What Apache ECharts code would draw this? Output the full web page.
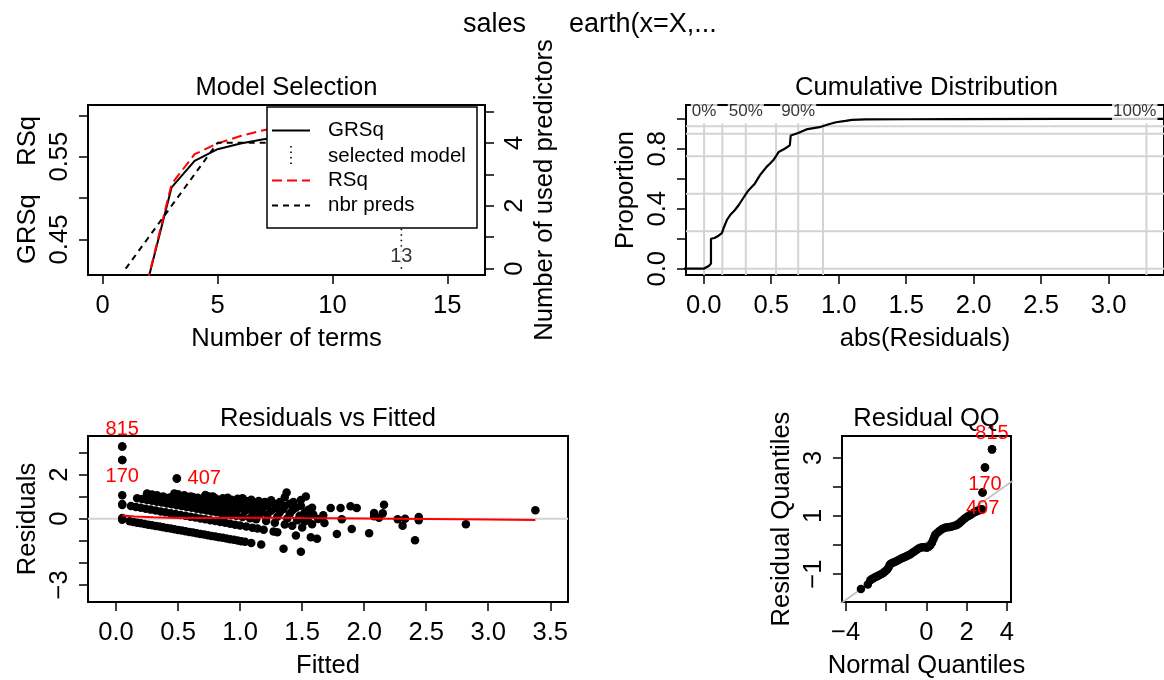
<!DOCTYPE html>
<html><head><meta charset="utf-8">
<script src="https://cdn.jsdelivr.net/npm/echarts@6/dist/echarts.min.js"></script>
<style>html,body{margin:0;padding:0;background:#fff}#c{width:1164px;height:680px}</style>
</head><body><div id="c"></div>
<script>
// ---------------- DATA ----------------
// Panel 1: Model Selection
const nTerms       = [1,2,3,4,5,6,7,8,9,10,11,12,13,14,15,16];
const grsqVals     = [0,0.404,0.513,0.545,0.559,0.566,0.571,0.574,0.577,0.579,0.581,0.582,0.583,0.583,0.582,0.581];
const rsqVals      = [0,0.405,0.517,0.553,0.566,0.575,0.582,0.587,0.591,0.594,0.597,0.599,0.601,0.603,0.605,0.607];
const nbrPredsVals = [0,1,2,3,4,4,4,4,4,5,5,5,5,5,5,5];
const selectedTerms = 13;
const p1XTicks = [0,5,10,15];
const p1YTicks = [0.45,0.5,0.55,0.6];
const p1YLabels = [0.45,0.55];
const p1RTicks = [0,1,2,3,4,5];
const p1RLabels = [0,2,4];

// Panel 2: Cumulative Distribution
const ecdfAbsResid = [-0.5,0.0,0.02,0.04,0.054,0.054,0.08,0.11,0.135,0.147,0.172,0.196,0.23,0.26,0.285,0.307,0.333,0.38,0.417,0.44,0.466,0.49,0.515,0.535,0.555,0.6,0.638,0.645,0.70,0.76,0.858,0.92,0.98,1.05,1.10,1.2,1.5,1.84,2.66,3.28,3.6];
const ecdfProp     = [0,0,0.01,0.02,0.035,0.20,0.205,0.22,0.237,0.27,0.325,0.358,0.39,0.425,0.46,0.49,0.524,0.569,0.624,0.65,0.679,0.70,0.723,0.75,0.778,0.80,0.823,0.889,0.905,0.929,0.944,0.962,0.977,0.986,0.993,0.996,0.997,0.998,0.999,1.0,1.0];
const quantileAbsResid = [0.003,0.138,0.312,0.536,0.700,0.884,3.28];
const quantileProps    = [0,0.25,0.5,0.75,0.9,0.95];
const quantileLabelAt  = [0.003,0.312,0.700,3.28];
const quantileLabels   = ['0%','50%','90%','100%'];
const p2XTicks = [0,0.5,1,1.5,2,2.5,3];
const p2YTicks = [0,0.2,0.4,0.6,0.8,1];
const p2YLabels = [0,0.4,0.8];

// Panel 3: Residuals vs Fitted
const fittedVals = [
 0.05,0.05,0.05,0.05,0.05,0.05,0.05,0.49,
 0.11,0.14,0.17,0.20,0.23,0.26,0.29,0.32,0.35,0.38,0.41,0.44,0.47,0.50,0.53,0.56,0.59,0.62,0.65,0.68,0.71,0.74,0.77,0.80,0.83,0.86,0.89,0.92,0.95,0.98,1.01,1.04,1.09,1.17,1.35,1.49,
 0.12,0.16,0.20,0.24,0.28,0.32,0.36,0.40,0.44,0.48,0.52,0.56,0.60,0.64,0.68,0.72,0.76,0.80,0.84,0.88,0.92,0.96,1.00,1.05,1.10,1.14,1.19,1.27,1.30,1.45,
 0.17,0.21,0.25,0.29,0.33,0.37,0.41,0.45,0.49,0.53,0.57,0.61,0.65,0.69,0.73,0.77,0.81,0.85,0.89,0.93,0.97,1.02,1.08,1.13,1.21,1.28,1.36,1.42,1.50,
 0.25,0.29,0.33,0.38,0.43,0.48,0.53,0.58,0.63,0.68,0.73,0.78,0.83,0.88,0.93,0.98,1.04,1.10,1.16,1.22,1.30,1.38,1.46,1.52,
 0.47,0.50,0.55,0.60,0.66,0.70,0.76,0.82,0.88,0.94,1.00,1.06,1.12,1.18,1.25,1.32,1.40,1.48,1.55,1.63,
 0.72,0.78,0.86,0.93,1.00,1.08,1.15,1.22,1.29,1.35,1.42,1.52,
 1.02,1.09,1.15,1.20,1.28,1.36,1.45,1.55,
 1.25,1.32,1.40,1.49,1.58,
 0.30,0.36,0.42,0.55,0.62,0.75,0.80,0.90,0.98,1.05,1.12,1.18,
 1.53,1.49,1.59,1.58,1.57,1.62,1.67,1.68,1.73,1.78,1.81,1.82,1.89,1.90,1.94,2.04,2.08,2.08,2.12,2.15,2.16,2.27,2.31,2.33,2.41,2.44,2.44,2.82,3.38,1.375,1.36,1.43];
const residVals = [
 3.27,2.66,1.06,0.67,0.62,0.03,-0.05,1.82,
 -0.12,-0.15,-0.18,-0.21,-0.24,-0.27,-0.30,-0.33,-0.36,-0.39,-0.42,-0.45,-0.48,-0.51,-0.54,-0.57,-0.60,-0.63,-0.66,-0.69,-0.72,-0.75,-0.78,-0.81,-0.84,-0.87,-0.90,-0.93,-0.96,-0.99,-1.02,-1.05,-1.10,-1.17,-1.36,-1.50,
 0.57,0.53,0.49,0.45,0.41,0.37,0.33,0.29,0.25,0.21,0.17,0.13,0.09,0.05,0.01,-0.03,-0.07,-0.11,-0.15,-0.19,-0.23,-0.27,-0.31,-0.36,-0.41,-0.45,-0.50,-0.58,-0.61,-0.76,
 0.93,0.89,0.85,0.81,0.77,0.73,0.69,0.65,0.61,0.57,0.53,0.49,0.45,0.41,0.37,0.33,0.29,0.25,0.21,0.17,0.13,0.08,0.02,-0.03,-0.11,-0.18,-0.26,-0.32,-0.40,
 1.14,1.10,1.06,1.01,0.96,0.91,0.86,0.81,0.76,0.71,0.66,0.61,0.56,0.51,0.46,0.41,0.35,0.29,0.23,0.17,0.09,0.01,-0.07,-0.13,
 1.14,1.11,1.06,1.01,0.95,0.91,0.85,0.79,0.73,0.67,0.61,0.55,0.49,0.43,0.36,0.29,0.21,0.13,0.06,-0.02,
 1.07,1.01,0.93,0.86,0.79,0.71,0.64,0.57,0.50,0.44,0.37,0.27,
 0.93,0.86,0.80,0.75,0.67,0.59,0.50,0.40,
 0.83,0.76,0.68,0.59,0.50,
 0.95,0.78,0.90,0.88,0.98,1.00,0.92,0.95,0.90,0.80,0.72,0.66,
 1.00,0.85,0.19,-0.25,-0.84,-0.91,0.16,-0.20,0.48,-0.69,0.48,-0.03,0.56,-0.47,0.48,-0.66,0.26,0.11,0.04,0.24,0.63,-0.03,-0.32,0.00,-0.98,0.07,-0.07,-0.25,0.38,1.19,0.97,0.75];
const smoothFitted = [0.05,0.15,0.3,0.5,0.7,1.0,1.3,1.5,2.0,2.5,3.0,3.38];
const smoothResid  = [0.14,0.10,0.06,0.03,0.03,0.04,0.04,0.03,0.01,-0.01,-0.04,-0.06];
const labeledIds    = ['815','170','407'];
const labeledFitted = [0.05,0.05,0.49];
const labeledResid  = [3.27,2.66,1.82];
const p3XTicks = [0,0.5,1,1.5,2,2.5,3,3.5];
const p3YTicks = [-3,-2,-1,0,1,2,3];
const p3YLabels = [-3,0,2];

// Panel 4: Residual QQ
const qqNormal = [-3.24,-2.90,-2.78,-2.70,-2.62,-2.53,-2.45,-2.37,-2.29,-2.20,-2.12,-2.04,-1.95,-1.88,-1.82,-1.78,-1.70,-1.60,-1.50,-1.40,-1.29,-1.19,-1.09,-0.99,-0.89,-0.79,-0.69,-0.59,-0.49,-0.40,-0.30,-0.20,-0.10,0.03,0.12,0.20,0.28,0.34,0.40,0.45,0.55,0.65,0.75,0.86,0.96,1.06,1.17,1.27,1.40,1.52,1.62,1.72,1.82,1.92,2.02,2.12,2.22,2.33,2.43,2.53,2.63,2.70,2.76,2.79,2.91,3.26];
const qqResid  = [-1.51,-1.36,-1.21,-1.17,-1.14,-1.10,-1.08,-1.05,-1.02,-0.99,-0.95,-0.90,-0.85,-0.78,-0.70,-0.65,-0.62,-0.59,-0.56,-0.52,-0.48,-0.45,-0.42,-0.39,-0.35,-0.32,-0.27,-0.22,-0.17,-0.13,-0.09,-0.08,-0.08,-0.09,-0.06,-0.01,0.08,0.18,0.28,0.36,0.42,0.48,0.53,0.58,0.60,0.61,0.62,0.64,0.66,0.69,0.74,0.80,0.86,0.92,0.97,1.01,1.05,1.10,1.14,1.17,1.20,1.22,1.23,1.81,2.67,3.29];
const qqLineNormal = [-4.5,4.5];
const qqLineResid  = [-2.14,2.32];
const qqLabeledNormal = [3.26,2.91,2.79];
const qqLabeledResid  = [3.29,2.67,1.81];
const p4XTicks = [-4,-2,0,2,4];
const p4XLabels = [-4,0,2,4];
const p4YTicks = [-1,0,1,2,3];
const p4YLabels = [-1,1,3];

// ---------------- CHART ----------------
const FONT = '"Liberation Sans", Arial, Helvetica, sans-serif';
const FS = 25.6;
const DOT = 8.5;
const zip = (a,b) => a.map((v,i)=>[v,b[i]]);
const minus = v => (v < 0 ? '\u2212' : '') + Math.abs(v);

function axis(o) {
  return Object.assign({
    type: 'value',
    axisLine: {show: false, onZero: false},
    splitLine: {show: false},
    axisTick: {show: true, inside: false, length: 9, customValues: o.ticks, lineStyle: {color: '#000', width: 1.5}},
    axisLabel: {show: true, customValues: o.labels, margin: o.margin, rotate: o.rotate || 0,
                fontSize: FS, color: '#000', fontFamily: FONT, formatter: o.fmt},
    nameLocation: 'middle',
    nameTextStyle: {fontSize: FS, color: '#000', fontFamily: FONT}
  }, o.rest);
}

const grids = [
  {left: 88,  top: 105, width: 397, height: 170},
  {left: 686, top: 105, width: 481, height: 170},
  {left: 88,  top: 436, width: 480, height: 170},
  {left: 842, top: 436, width: 169, height: 170}
].map(g => Object.assign({show: true, borderColor: '#000', borderWidth: 2, backgroundColor: 'transparent', containLabel: false}, g));

const xAxes = [
  axis({ticks: p1XTicks, labels: p1XTicks, margin: 18, fmt: v => String(v),
         rest: {gridIndex: 0, min: -0.64, max: 16.64, name: 'Number of terms', nameGap: 51}}),
  axis({ticks: p2XTicks, labels: p2XTicks, margin: 18, fmt: v => v.toFixed(1),
         rest: {gridIndex: 1, min: -0.131, max: 3.41, name: 'abs(Residuals)', nameGap: 51}}),
  axis({ticks: p3XTicks, labels: p3XTicks, margin: 18, fmt: v => v.toFixed(1),
         rest: {gridIndex: 2, min: -0.226, max: 3.643, name: 'Fitted', nameGap: 51}}),
  axis({ticks: p4XTicks, labels: p4XLabels, margin: 18, fmt: minus,
         rest: {gridIndex: 3, min: -4.18, max: 4.2, name: 'Normal Quantiles', nameGap: 51}})
];
const yAxes = [
  axis({ticks: p1YTicks, labels: p1YLabels, margin: 15, rotate: 90, fmt: v => v.toFixed(2),
        rest: {gridIndex: 0, position: 'left', min: 0.4071, max: 0.6124, name: 'GRSq    RSq', nameRotate: 90, nameGap: 47}}),
  axis({ticks: p1RTicks, labels: p1RLabels, margin: 17, rotate: 90, fmt: v => String(v),
        rest: {gridIndex: 0, position: 'right', min: -0.2, max: 5.2, name: 'Number of used predictors', nameRotate: 90, nameGap: 47}}),
  axis({ticks: p2YTicks, labels: p2YLabels, margin: 15, rotate: 90, fmt: v => v.toFixed(1),
        rest: {gridIndex: 1, min: -0.042, max: 1.092, name: 'Proportion', nameRotate: 90, nameGap: 47}}),
  axis({ticks: p3YTicks, labels: p3YLabels, margin: 15, rotate: 90, fmt: minus,
        rest: {gridIndex: 2, min: -3.776, max: 3.746, name: 'Residuals', nameRotate: 90, nameGap: 47}}),
  axis({ticks: p4YTicks, labels: p4YLabels, margin: 15, rotate: 90, fmt: minus,
        rest: {gridIndex: 3, min: -1.96, max: 3.75, name: 'Residual Quantiles', nameRotate: 90, nameGap: 47}})
];

const series = [];
const lineS = (xi, yi, data, color, width, type, z) => ({
  type: 'line', xAxisIndex: xi, yAxisIndex: yi, data, symbol: 'none', silent: true, z: z || 2,
  lineStyle: {color, width, type: type || 'solid'}, clip: true, animation: false
});

// Panel 1
series.push(lineS(0, 0, zip(nTerms, grsqVals), '#000', 2, 'solid', 3));
series.push(lineS(0, 0, zip(nTerms, rsqVals), '#ff0000', 2, [10, 5], 3));
series.push(lineS(0, 1, zip(nTerms, nbrPredsVals), '#000', 2, [6, 5], 3));
series.push(lineS(0, 1, [[selectedTerms, 0], [selectedTerms, 5.2]], '#000', 1.6, [1.5, 4], 2));
series.push({type: 'scatter', xAxisIndex: 0, yAxisIndex: 1, symbolSize: 0, silent: true, z: 4,
  data: [[selectedTerms, 0.38]],
  label: {show: true, position: 'inside', formatter: String(selectedTerms), fontSize: 20, color: '#000',
          fontFamily: FONT, backgroundColor: '#fff', padding: [0, 1]}});

// Panel 2
quantileAbsResid.forEach(q => series.push(lineS(1, 2, [[q, -0.042], [q, 0.97]], '#d3d3d3', 2, 'solid', 1)));
quantileProps.forEach(p => series.push(lineS(1, 2, [[-0.131, p], [3.41, p]], '#d3d3d3', 2, 'solid', 1)));
series.push(lineS(1, 2, zip(ecdfAbsResid, ecdfProp), '#000', 2.2, 'solid', 3));
series.push({type: 'scatter', xAxisIndex: 1, yAxisIndex: 2, symbolSize: 0, silent: true, z: 5,
  data: quantileLabelAt.map((q, i) => ({
    value: [q, 1.047],
    label: Object.assign({formatter: quantileLabels[i]},
      i === quantileLabelAt.length - 1 ? {align: 'right', offset: [11, 0]} : {})
  })),
  label: {show: true, position: 'inside', fontSize: 17, color: '#000', fontFamily: FONT,
          backgroundColor: '#fff', padding: [1, 1]}});

// Panel 3
series.push(lineS(2, 3, [[-0.226, 0], [3.643, 0]], '#d3d3d3', 2, 'solid', 1));
series.push({type: 'scatter', xAxisIndex: 2, yAxisIndex: 3, symbol: 'circle', symbolSize: DOT, silent: true, z: 2,
  itemStyle: {color: '#000', opacity: 1}, data: zip(fittedVals, residVals)});
series.push(lineS(2, 3, zip(smoothFitted, smoothResid), '#ff0000', 2, 'solid', 3));
const p3LabelPos = [{position: 'top', distance: 3}, {position: 'bottom', distance: 2}, {position: 'right', distance: 6.5}];
series.push({type: 'scatter', xAxisIndex: 2, yAxisIndex: 3, symbol: 'circle', symbolSize: DOT, silent: true, z: 4,
  itemStyle: {color: '#000', opacity: 1},
  data: labeledIds.map((id, i) => ({value: [labeledFitted[i], labeledResid[i]],
    label: Object.assign({show: true, formatter: id, fontSize: 20, color: '#ff0000', fontFamily: FONT}, p3LabelPos[i])}))});

// Panel 4
series.push(lineS(3, 4, zip(qqLineNormal, qqLineResid), '#bebebe', 1.6, 'solid', 1));
series.push({type: 'scatter', xAxisIndex: 3, yAxisIndex: 4, symbol: 'circle', symbolSize: DOT, silent: true, z: 2,
  itemStyle: {color: '#000', opacity: 1}, data: zip(qqNormal, qqResid)});
const p4LabelPos = [{position: 'top', distance: 2}, {position: 'bottom', distance: 2.5}, {position: 'bottom', distance: 2}];
series.push({type: 'scatter', xAxisIndex: 3, yAxisIndex: 4, symbol: 'circle', symbolSize: DOT, silent: true, z: 4,
  itemStyle: {color: '#000', opacity: 1},
  data: labeledIds.map((id, i) => ({value: [qqLabeledNormal[i], qqLabeledResid[i]],
    label: Object.assign({show: true, formatter: id, fontSize: 20, color: '#ff0000', fontFamily: FONT}, p4LabelPos[i])}))});

// Titles and legend (text / decoration)
const txt = (text, x, y, size, align, extra) => Object.assign({
  type: 'text', x, y, z: 100, silent: true,
  style: {text, fontSize: size, fontFamily: FONT, fill: '#000',
          align: align || 'center', textAlign: align || 'center', verticalAlign: 'middle', textVerticalAlign: 'middle'}
}, extra || {});

const legendRows = [130.5, 156, 180.5, 205.5];
const graphic = [
  txt('sales', 463, 25, 27, 'left'),
  txt('earth(x=X,...', 569, 25, 27, 'left'),
  txt('Model Selection', 286.5, 88, FS),
  txt('Cumulative Distribution', 926.5, 88, FS),
  txt('Residuals vs Fitted', 328, 419, FS),
  txt('Residual QQ', 926.5, 419, FS),
  {type: 'rect', z: 100, silent: true, shape: {x: 267, y: 107, width: 210, height: 121},
   style: {fill: '#fff', stroke: '#000', lineWidth: 1.5}},
  {type: 'line', z: 101, silent: true, shape: {x1: 272, y1: legendRows[0], x2: 310, y2: legendRows[0]},
   style: {stroke: '#000', lineWidth: 2}},
  {type: 'line', z: 101, silent: true, shape: {x1: 291, y1: legendRows[1] - 10, x2: 291, y2: legendRows[1] + 12},
   style: {stroke: '#000', lineWidth: 1.6, lineDash: [1.5, 4]}},
  {type: 'line', z: 101, silent: true, shape: {x1: 272, y1: legendRows[2], x2: 310, y2: legendRows[2]},
   style: {stroke: '#ff0000', lineWidth: 2, lineDash: [10, 5]}},
  {type: 'line', z: 101, silent: true, shape: {x1: 272, y1: legendRows[3], x2: 310, y2: legendRows[3]},
   style: {stroke: '#000', lineWidth: 2, lineDash: [6, 5]}},
  txt('GRSq', 328, legendRows[0], 20.5, 'left', {z: 101}),
  txt('selected model', 328, legendRows[1], 20.5, 'left', {z: 101}),
  txt('RSq', 328, legendRows[2], 20.5, 'left', {z: 101}),
  txt('nbr preds', 328, legendRows[3], 20.5, 'left', {z: 101})
];

const chart = echarts.init(document.getElementById('c'), null, {renderer: 'canvas'});
chart.setOption({
  animation: false,
  backgroundColor: '#fff',
  textStyle: {fontFamily: FONT},
  grid: grids,
  xAxis: xAxes,
  yAxis: yAxes,
  series,
  graphic
});
</script></body></html>
